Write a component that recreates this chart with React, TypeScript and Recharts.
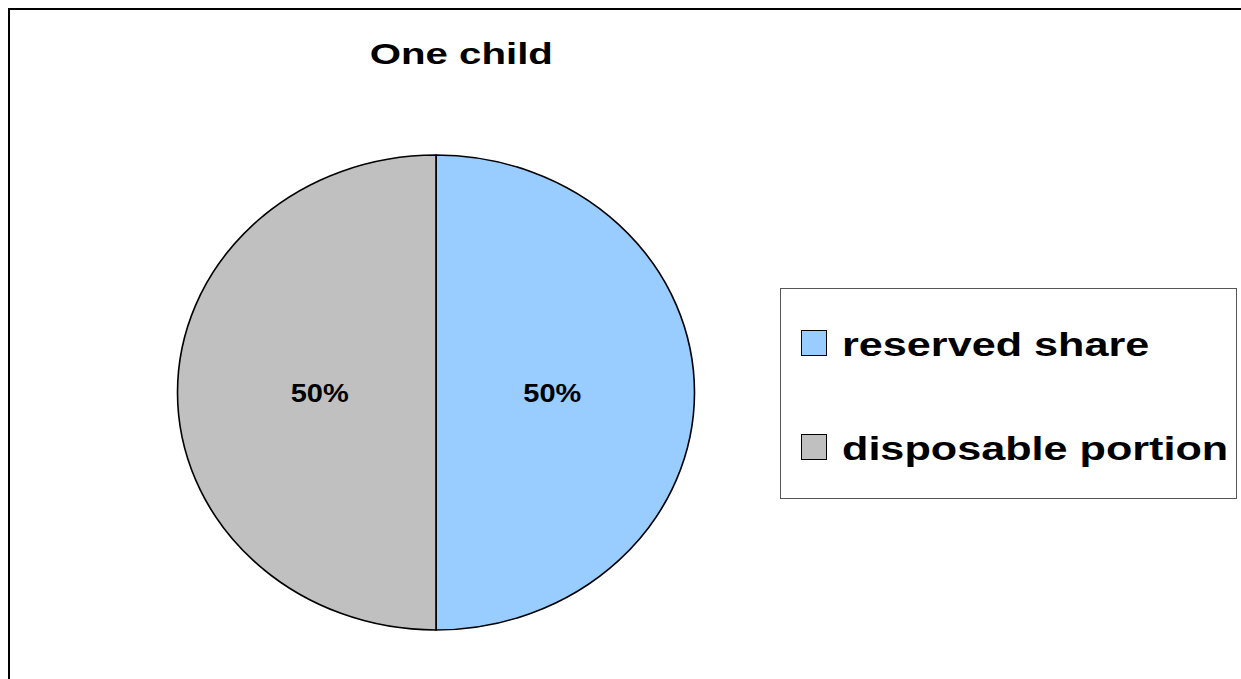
import React from "react";
import { PieChart, Pie, Cell, Legend, Sector } from "recharts";

const TITLE = "One child";
const NAMES = ["reserved share", "disposable portion"];
const VALUES = [50, 50];
const COLORS = ["#99CCFF", "#C0C0C0"];

const W = 1231;
const H = 669;
const CX = 426;
const CY = 382.5;
const RX = 258.5;
const SY = 237.5 / 258.5; // pie is drawn as an ellipse
const FONT = "'Liberation Sans', Arial, sans-serif";
const RAD = Math.PI / 180;

const chartData = NAMES.map((name, i) => ({ name, value: VALUES[i] }));

const ovalSector = (props: any) => {
  const cy = props.cy;
  return (
    <g transform={`translate(0 ${cy}) scale(1 ${SY}) translate(0 ${-cy})`}>
      <Sector {...props} stroke="#000" strokeWidth={1.6} vectorEffect="non-scaling-stroke" />
    </g>
  );
};

const renderLabel = ({ cx, cy, midAngle, outerRadius, percent }: any) => {
  const r = outerRadius * 0.45;
  const x = cx + r * Math.cos(-midAngle * RAD);
  const y = cy + r * Math.sin(-midAngle * RAD) * SY;
  return (
    <text
      x={x}
      y={y}
      textAnchor="middle"
      dominantBaseline="central"
      fontFamily={FONT}
      fontWeight="bold"
      fontSize={25}
      fill="#000"
      textLength={58}
      lengthAdjust="spacingAndGlyphs"
    >
      {`${(percent * 100).toFixed(0)}%`}
    </text>
  );
};

const renderLegend = () => (
  <div
    style={{
      position: "relative",
      boxSizing: "border-box",
      width: 457,
      height: 211,
      border: "1px solid #555",
      background: "#fff",
      fontFamily: FONT,
    }}
  >
    {NAMES.map((name, i) => (
      <div
        key={name}
        style={{ position: "absolute", left: 20, top: i === 0 ? 41 : 145, display: "flex", alignItems: "flex-start" }}
      >
        <div
          style={{
            boxSizing: "border-box",
            width: 26,
            height: 26,
            border: "1.5px solid #000",
            background: COLORS[i],
          }}
        />
        <span
          style={{
            display: "inline-block",
            marginLeft: 15,
            fontSize: 34,
            fontWeight: "bold",
            lineHeight: "26px",
            position: "relative",
            top: 1,
            whiteSpace: "nowrap",
            transform: "scaleX(1.27)",
            transformOrigin: "left center",
            color: "#000",
          }}
        >
          {name}
        </span>
      </div>
    ))}
  </div>
);

export default function App() {
  return (
    <div
      style={{
        position: "fixed",
        left: 8,
        top: 8,
        boxSizing: "border-box",
        width: 1233,
        height: 671,
        borderLeft: "2px solid #000",
        borderTop: "2px solid #000",
        background: "#fff",
      }}
    >
      <div
        style={{
          position: "absolute",
          left: 251.5,
          top: 29,
          width: 400,
          textAlign: "center",
          fontFamily: FONT,
          fontWeight: "bold",
          fontSize: 30,
          lineHeight: "30px",
          zIndex: 2,
        }}
      >
        <span style={{ display: "inline-block", transform: "scaleX(1.34)" }}>{TITLE}</span>
      </div>
      <PieChart width={W} height={H} margin={{ top: 0, right: 0, bottom: 0, left: 0 }}>
        <Pie
          data={chartData}
          dataKey="value"
          nameKey="name"
          cx={CX}
          cy={CY}
          outerRadius={RX}
          startAngle={90}
          endAngle={-270}
          stroke="#000"
          strokeWidth={1.6}
          shape={ovalSector}
          inactiveShape={ovalSector}
          activeShape={ovalSector}
          label={renderLabel}
          labelLine={false}
          isAnimationActive={false}
        >
          {chartData.map((entry, index) => (
            <Cell key={`cell-${index}`} fill={COLORS[index % COLORS.length]} />
          ))}
        </Pie>
        <Legend
          layout="vertical"
          align="right"
          verticalAlign="middle"
          content={renderLegend}
          wrapperStyle={{ left: 770, top: 278, right: "auto", bottom: "auto", width: 457, height: 211 }}
        />
      </PieChart>
    </div>
  );
}
